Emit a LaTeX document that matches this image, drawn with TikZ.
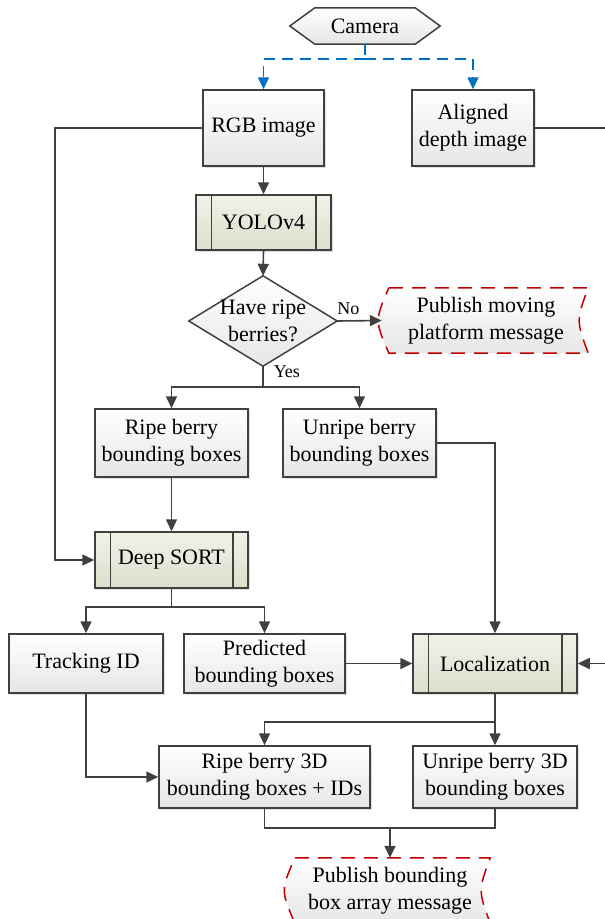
\documentclass[tikz,border=0pt]{standalone}
\usepackage{fontspec}
\setmainfont{Liberation Serif}
\usetikzlibrary{arrows.meta,shadows}

\definecolor{edge}{RGB}{64,64,64}
\definecolor{flowblue}{RGB}{0,112,192}
\definecolor{msgred}{RGB}{192,0,0}
\definecolor{procA}{RGB}{241,241,232}
\definecolor{procB}{RGB}{222,222,204}
\definecolor{boxB}{RGB}{230,230,230}

\pgfdeclarelayer{background}
\pgfsetlayers{background,main}

\tikzset{
  txt/.style={align=center, font=\fontsize{22}{27}\selectfont, inner sep=0pt},
  shade/.style={top color=white, bottom color=boxB},
  base/.style={txt, draw=edge, line width=1.5pt,
    drop shadow={shadow xshift=2pt, shadow yshift=-2pt, fill=black, opacity=0.12}},
  box/.style={base, rectangle, shade},
  proc/.style={base, rectangle, top color=procA, bottom color=procB},
  outline/.style={draw=edge, line width=1.5pt},
  flow/.style={draw=edge, line width=1.6pt, -{Triangle[length=12pt,width=11pt]}},
  link/.style={draw=edge, line width=1.6pt},
  camlink/.style={draw=flowblue, line width=1.6pt, dash pattern=on 11pt off 7pt},
  camflow/.style={camlink, -{Triangle[length=12pt,width=11pt]}},
  msgline/.style={draw=msgred, line width=1.5pt, dash pattern=on 14pt off 9pt, shade},
  tag/.style={font=\fontsize{18}{20}\selectfont, inner sep=0pt}
}

% vertical bars of a predefined-process box
\newcommand\procbars[1]{%
  \draw[outline] ([xshift=16pt]#1.north west) -- ([xshift=16pt]#1.south west)
                 ([xshift=-16pt]#1.north east) -- ([xshift=-16pt]#1.south east);}

% stored-data outline around a rectangular node
\newcommand\storeddata[1]{%
  \path[msgline] ([xshift=7pt]#1.north west) -- ([xshift=-2pt]#1.north east)
    .. controls ([xshift=-14pt]#1.east) .. ([xshift=-2pt]#1.south east)
    -- ([xshift=7pt]#1.south west)
    .. controls ([xshift=-7pt]#1.west) .. ([xshift=7pt]#1.north west) -- cycle;}

\begin{document}
\begin{tikzpicture}[x=1pt, y=-1pt]
\useasboundingbox (0,0) rectangle (605,919);

% ---- nodes ----
\node[txt, minimum width=100pt, minimum height=36pt] (cam) at (365,26) {Camera};
\node[box, minimum width=121pt, minimum height=76pt] (rgb) at (263.5,128) {RGB image};
\node[box, minimum width=122pt, minimum height=76pt] (depth) at (473,128) {Aligned\\depth image};
\node[proc, minimum width=135pt, minimum height=55pt] (yolo) at (263.5,222.5) {YOLOv4};
\procbars{yolo}
\node[txt, minimum width=148pt, minimum height=90pt] (dec) at (263,321) {Have ripe\\berries?};
\node[txt, minimum width=208pt, minimum height=65pt] (pub1) at (486,320.5) {Publish moving\\platform message};
\node[box, minimum width=153pt, minimum height=68pt] (ripe) at (171.5,443) {Ripe berry\\bounding boxes};
\node[box, minimum width=153pt, minimum height=68pt] (unripe) at (359.5,443) {Unripe berry\\bounding boxes};
\node[proc, minimum width=153pt, minimum height=56pt] (deep) at (171.5,560) {Deep SORT};
\procbars{deep}
\node[box, minimum width=154pt, minimum height=59pt] (track) at (86,663.5) {Tracking ID};
\node[box, minimum width=161pt, minimum height=59pt] (pred) at (264.5,663.5) {Predicted\\bounding boxes};
\node[proc, minimum width=164pt, minimum height=59pt] (loc) at (495,663.5) {Localization};
\procbars{loc}
\node[box, minimum width=211pt, minimum height=62pt] (ripe3) at (264.5,777) {Ripe berry 3D\\bounding boxes + IDs};
\node[box, minimum width=164pt, minimum height=62pt] (unripe3) at (495,777) {Unripe berry 3D\\bounding boxes};
\node[txt, minimum width=204pt, minimum height=65pt] (pub2) at (390,890.5) {Publish bounding\\box array message};

% ---- outlines drawn under the texts ----
\begin{pgfonlayer}{background}
  \path[outline, shade] (cam.north west) -- (cam.north east) -- ([xshift=25pt]cam.east)
    -- (cam.south east) -- (cam.south west) -- ([xshift=-25pt]cam.west) -- cycle;
  \path[outline, shade] (dec.north) -- (dec.east) -- (dec.south) -- (dec.west) -- cycle;
  \storeddata{pub1}
  \storeddata{pub2}
\end{pgfonlayer}

% ---- junction points ----
\coordinate (cs) at (365,59);
\coordinate (lc) at (55,128);
\coordinate (rc) at (607,128);
\coordinate (ys) at (263,387);
\coordinate (ds) at (171.5,607);
\coordinate (ls) at (495,722);
\coordinate (bj) at (390,828);

% ---- connectors ----
\draw[camlink] (cam.south) -- (cs);
\draw[camflow] (cs) -| (rgb.north);
\draw[camflow] (cs) -| (depth.north);

\draw[flow] (rgb.south) -- (yolo.north);
\draw[flow] (yolo.south) -- (dec.north);
\draw[flow] (dec.east) -- node[tag, pos=0.25, above=5pt] (no) {No} (pub1.west);
\draw[link] (dec.south) -- node[tag, pos=0.25, right=10pt] (yes) {Yes} (ys);
\draw[flow] (ys) -| (ripe.north);
\draw[flow] (ys) -| (unripe.north);

\draw[flow] (rgb.west) -- (lc) |- (deep.west);
\draw[flow] (depth.east) -- (rc) |- (loc.east);

\draw[flow] (ripe.south) -- (deep.north);
\draw[link] (deep.south) -- (ds);
\draw[flow] (ds) -| (track.north);
\draw[flow] (ds) -| (pred.north);

\draw[flow] (unripe.east) -| (loc.north);
\draw[flow] (pred.east) -- (loc.west);

\draw[link] (loc.south) -- (ls);
\draw[flow] (ls) -| (ripe3.north);
\draw[flow] (ls) -- (unripe3.north);
\draw[flow] (track.south) |- (ripe3.west);

\draw[link] (ripe3.south) |- (bj) -| (unripe3.south);
\draw[flow] (bj) -- (pub2.north);
\end{tikzpicture}
\end{document}
